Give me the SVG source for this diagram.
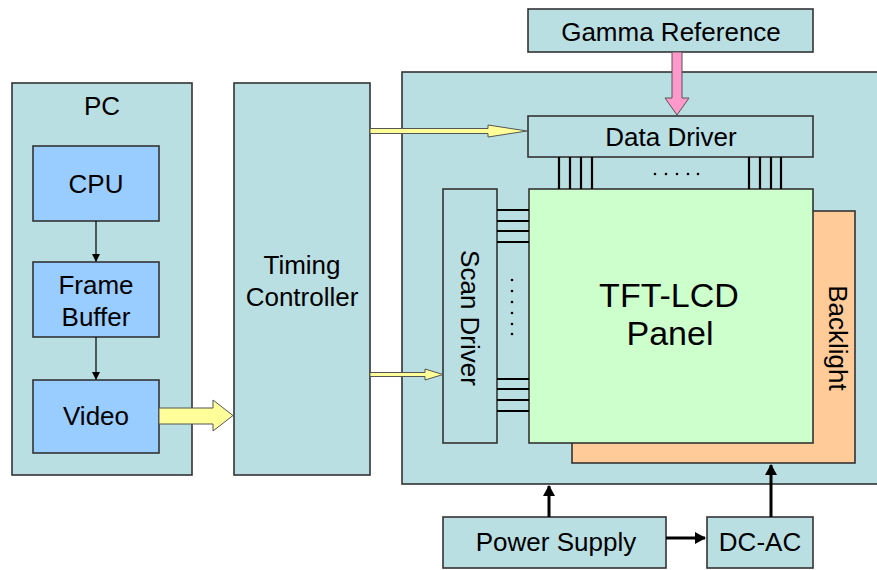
<svg xmlns="http://www.w3.org/2000/svg" width="877" height="570" viewBox="0 0 877 570">
<style>
.box{fill:#B9DFE3;stroke:#333;stroke-width:1.6}
.blue{fill:#99CCFF;stroke:#333;stroke-width:1.6}
.green{fill:#CCFFCC;stroke:#333;stroke-width:1.6}
.orange{fill:#FFCC99;stroke:#333;stroke-width:1.6}
text{font-family:"Liberation Sans",Arial,sans-serif;font-size:26px;fill:#000;text-anchor:middle}
.big{font-size:34px}
.bus{stroke:#000;stroke-width:2.2}
.thin{stroke:#000;stroke-width:1.2;fill:none}
.thick{stroke:#000;stroke-width:3;fill:none}
.yarrow{fill:#FFFF99;stroke:#555;stroke-width:1}
.parrow{fill:#FF99CC;stroke:#555;stroke-width:1}
</style>
<defs>
<marker id="ah" markerWidth="8" markerHeight="8" refX="7" refY="4" orient="auto" markerUnits="userSpaceOnUse"><path d="M0,0 L8,4 L0,8 z" fill="#000"/></marker>
<marker id="ahb" markerWidth="12" markerHeight="12" refX="10" refY="6" orient="auto" markerUnits="userSpaceOnUse"><path d="M0,0 L11,6 L0,12 z" fill="#000"/></marker>
</defs>
<rect width="877" height="570" fill="#fff"/>

<g id="lcd-module">
<rect class="box" x="402" y="72" width="480" height="412"/>
</g>
<g id="pc">
<rect class="box" x="12" y="83" width="180" height="392"/>
<text x="102" y="115">PC</text>
</g>
<g id="timing-controller">
<rect class="box" x="234" y="83" width="136" height="392"/>
<text x="302" y="274">Timing</text>
<text x="302" y="306">Controller</text>
</g>
<g id="cpu">
<rect class="blue" x="33" y="146" width="126" height="75"/>
<text x="96" y="193">CPU</text>
</g>
<g id="frame-buffer">
<rect class="blue" x="33" y="262" width="126" height="75"/>
<text x="96" y="294">Frame</text>
<text x="96" y="326">Buffer</text>
</g>
<g id="video">
<rect class="blue" x="33" y="380" width="126" height="73"/>
<text x="96" y="425">Video</text>
</g>
<g id="gamma-reference">
<rect class="box" x="528" y="9" width="285" height="43"/>
<text x="671" y="41">Gamma Reference</text>
</g>
<g id="backlight">
<rect class="orange" x="572" y="211" width="283" height="252"/>
<text transform="translate(838,338) rotate(90)" x="0" y="9.5">Backlight</text>
</g>
<g id="tft-lcd-panel">
<rect class="green" x="529" y="189" width="284" height="254"/>
<text class="big" x="669" y="307">TFT-LCD</text>
<text class="big" x="670" y="345">Panel</text>
</g>
<g id="data-driver">
<rect class="box" x="528" y="116" width="285" height="41"/>
<text x="671" y="146">Data Driver</text>
</g>
<g id="scan-driver">
<rect class="box" x="443" y="189" width="54" height="254"/>
<text transform="translate(470,318) rotate(90)" x="0" y="9.5">Scan Driver</text>
</g>
<g id="power-supply">
<rect class="box" x="443" y="517" width="223" height="51"/>
<text x="556" y="551">Power Supply</text>
</g>
<g id="dc-ac">
<rect class="box" x="707" y="517" width="106" height="51"/>
<text x="760" y="551">DC-AC</text>
</g>

<g id="connectors">
<path class="bus" d="M559,157V189 M570,157V189 M581,157V189 M592,157V189 M749,157V189 M760,157V189 M771,157V189 M781,157V189"/>
<g fill="#000">
<circle cx="655" cy="174" r="1.3"/><circle cx="666" cy="174" r="1.3"/><circle cx="677" cy="174" r="1.3"/><circle cx="688" cy="174" r="1.3"/><circle cx="698" cy="174" r="1.3"/>
</g>
<path class="bus" d="M497,210H529 M497,221H529 M497,231H529 M497,242H529 M497,379H529 M497,389H529 M497,400H529 M497,411H529"/>
<g fill="#000">
<circle cx="512" cy="280" r="1.3"/><circle cx="512" cy="291" r="1.3"/><circle cx="512" cy="302" r="1.3"/><circle cx="512" cy="313" r="1.3"/><circle cx="512" cy="324" r="1.3"/><circle cx="512" cy="334" r="1.3"/>
</g>
<line class="thin" x1="96" y1="221" x2="96" y2="261" marker-end="url(#ah)"/>
<line class="thin" x1="96" y1="337" x2="96" y2="379" marker-end="url(#ah)"/>
<path class="yarrow" d="M159,408 H213 V400 L233,415.5 L213,431 V424 H159 Z"/>
<path class="yarrow" d="M370,128.5 H488 V125 L527,131 L488,137 V133.5 H370 Z"/>
<path class="yarrow" d="M370,372.5 H425 V369 L443,374.5 L425,380 V376.5 H370 Z"/>
<path class="parrow" d="M672,52 V98 H665 L677,115 L689,98 H682 V52 Z"/>
<line class="thick" x1="549" y1="517" x2="549" y2="486" marker-end="url(#ahb)"/>
<line class="thick" x1="666" y1="538" x2="705" y2="538" marker-end="url(#ahb)"/>
<line class="thick" x1="771" y1="517" x2="771" y2="465" marker-end="url(#ahb)"/>
</g>
</svg>
